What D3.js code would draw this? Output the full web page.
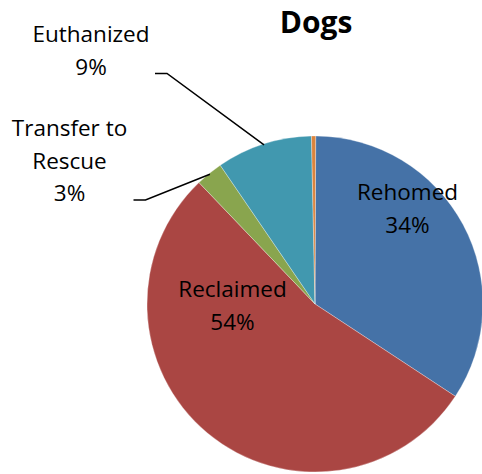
<!DOCTYPE html>
<html>
<head>
<meta charset="utf-8">
<script src="https://cdn.jsdelivr.net/npm/d3@7"></script>
<style>
  body { margin: 0; background: #fff; }
  text { font-family: "Open Sans", sans-serif; }
</style>
</head>
<body>
<div id="chart"></div>
<script>
// ---------------  DATA  ---------------
const title = "Dogs";
const categories = ["Rehomed", "Reclaimed", "Transfer to Rescue", "Euthanized", "Other"];
const values = [34.2, 53.6, 2.6, 9.2, 0.4];
const colors = ["#4572A7", "#AA4643", "#89A54E", "#4198AF", "#DB843D"];
// label text lines (percent added below), empty = no label
const labelLines = [["Rehomed"], ["Reclaimed"], ["Transfer to", "Rescue"], ["Euthanized"], []];
const labelInside = [true, true, false, false, false];

// ---------------  LAYOUT  ---------------
const w = 482, h = 474;
const cx = 315, cy = 304, radius = 168;
const fontSize = 22.5, lineH = 32.5;
// first-baseline offset of each label from pie centre
const labelOffsets = [[92.5, -104], [-82.5, -7], [-245.5, -168], [-224, -262], null];

const svg = d3.select("#chart").append("svg")
  .attr("width", w)
  .attr("height", h);

svg.append("text")
  .attr("x", 316)
  .attr("y", 33)
  .attr("text-anchor", "middle")
  .style("font-size", "30px")
  .style("font-weight", "700")
  .text(title);

const total = d3.sum(values);
const pie = d3.pie().sort(null).value(d => d)
  .startAngle(0.004).endAngle(0.004 + 2 * Math.PI);
const arcs = pie(values);
const arc = d3.arc().innerRadius(0).outerRadius(radius);

const g = svg.append("g").attr("transform", "translate(" + cx + "," + cy + ")");

g.selectAll("path.slice")
  .data(arcs)
  .enter()
  .append("path")
  .attr("class", "slice")
  .attr("d", arc)
  .attr("fill", (d, i) => colors[i])
  .attr("stroke", "rgba(255,255,255,0.5)")
  .attr("stroke-width", 0.6);

// ---------------  LABELS  ---------------
arcs.forEach((d, i) => {
  if (!labelOffsets[i]) return;
  const lines = labelLines[i].concat([Math.round(values[i] / total * 100) + "%"]);
  const [ox, oy] = labelOffsets[i];
  const t = g.append("text")
    .attr("text-anchor", "middle")
    .style("font-size", fontSize + "px")
    .attr("fill", "#000");
  lines.forEach((s, k) => {
    t.append("tspan").attr("x", ox).attr("y", oy + k * lineH).text(s);
  });

  if (!labelInside[i]) {
    // leader line: short horizontal then to arc edge at mid angle
    const mid = (d.startAngle + d.endAngle) / 2;
    const end = d3.pointRadial(mid, radius - 1);
    const ly = oy + (lines.length - 1) * lineH - 1;
    const x0 = ox + 64;
    g.append("path")
      .attr("d", d3.line()([[x0, ly], [x0 + 12, ly], end]))
      .attr("fill", "none")
      .attr("stroke", "#000")
      .attr("stroke-width", 1.5);
  }
});
</script>
</body>
</html>
